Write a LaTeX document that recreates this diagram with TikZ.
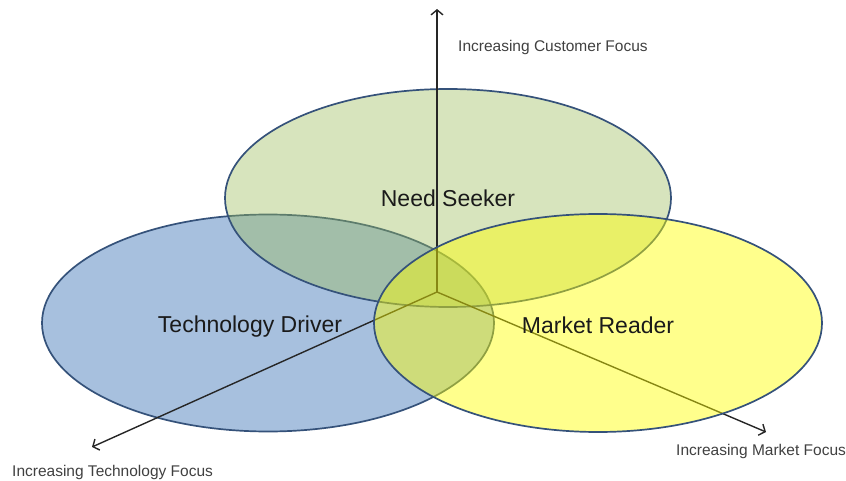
\documentclass[tikz,border=0pt]{standalone}
\usepackage{fontspec}
\setmainfont{Liberation Sans}
\usetikzlibrary{shapes.geometric,arrows.meta}
\definecolor{bluefill}{HTML}{4F81BD}
\definecolor{greenfill}{HTML}{9BBB59}
\definecolor{yellowfill}{HTML}{FFFF00}
\definecolor{rimcol}{HTML}{35527A}
\definecolor{axiscol}{HTML}{262626}
\definecolor{smalltext}{HTML}{404040}
\definecolor{bigtext}{HTML}{1A1A1A}
\tikzset{
  oval/.style={ellipse, draw=rimcol, line width=1.7pt, inner sep=0pt, outer sep=0pt},
  axisline/.style={draw=axiscol, line width=1.4pt, -{Straight Barb[length=5pt,width=12pt,line width=1.4pt]}},
  biglabel/.style={font=\fontsize{23}{26}\selectfont, text=bigtext, inner sep=0pt, anchor=base},
  smalllabel/.style={font=\fontsize{15.5}{18}\selectfont, text=smalltext, inner sep=0pt, anchor=base west}
}
\begin{document}
\begin{tikzpicture}[x=1pt,y=-1pt]
\useasboundingbox (0,0) rectangle (846,481);
% ellipses (blue, green)
\node[oval, fill=bluefill, fill opacity=0.5, minimum width=452pt, minimum height=217pt] (tech) at (268,323) {};
\node[oval, fill=greenfill, fill opacity=0.4, minimum width=446pt, minimum height=218pt] (need) at (448,198) {};
% axes
\coordinate (o) at (437,292);
\coordinate (up) at (437,9);
\coordinate (left) at (92,447);
\coordinate (right) at (766,432);
\draw[axisline] (o) -- (up);
\draw[axisline] (o) -- (left);
\draw[axisline] (o) -- (right);
% yellow ellipse on top
\node[oval, fill=yellowfill, fill opacity=0.45, minimum width=448pt, minimum height=218pt] (market) at (598,323) {};
% labels
\node[biglabel] (needlab) at (448,207) {Need Seeker};
\node[biglabel] (techlab) at (250,332) {Technology Driver};
\node[biglabel] (marketlab) at (598,333) {Market Reader};
\node[smalllabel] (custfocus) at (458,52) {Increasing Customer Focus};
\node[smalllabel] (techfocus) at (12,476) {Increasing Technology Focus};
\node[smalllabel] (marketfocus) at (676,455) {Increasing Market Focus};
\end{tikzpicture}
\end{document}
